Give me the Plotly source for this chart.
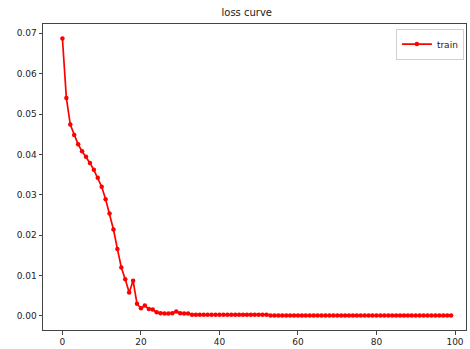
import plotly.graph_objects as go

epochs = list(range(100))
train_loss = [
    0.0687, 0.0540, 0.0474, 0.0448, 0.0425, 0.0408, 0.0394, 0.0379, 0.0362, 0.0342,
    0.0320, 0.0289, 0.0254, 0.0214, 0.0166, 0.0120, 0.0091, 0.0058, 0.0087, 0.0030,
    0.0019, 0.0026, 0.0017, 0.0016, 0.0009, 0.0007, 0.0006, 0.0006, 0.0007, 0.0011,
    0.0007, 0.0006, 0.0006, 0.0003, 0.0003, 0.0003, 0.0003, 0.0003, 0.0003, 0.0003,
    0.0003, 0.0003, 0.0003, 0.0003, 0.0003, 0.0003, 0.0003, 0.0003, 0.0003, 0.0003,
    0.0003, 0.0003, 0.0003, 0.0001, 0.0001, 0.0001, 0.0001, 0.0001, 0.0001, 0.0001,
    0.0001, 0.0001, 0.0001, 0.0001, 0.0001, 0.0001, 0.0001, 0.0001, 0.0001, 0.0001,
    0.0001, 0.0001, 0.0001, 0.0001, 0.0001, 0.0001, 0.0001, 0.0001, 0.0001, 0.0001,
    0.0001, 0.0001, 0.0001, 0.0001, 0.0001, 0.0001, 0.0001, 0.0001, 0.0001, 0.0001,
    0.0001, 0.0001, 0.0001, 0.0001, 0.0001, 0.0001, 0.0001, 0.0001, 0.0001, 0.0001,
]
x_ticks = [0, 20, 40, 60, 80, 100]
y_ticks = [0.00, 0.01, 0.02, 0.03, 0.04, 0.05, 0.06, 0.07]

fig = go.Figure()
fig.add_trace(go.Scatter(
    x=epochs, y=train_loss, name="train", mode="lines+markers",
    line=dict(color="red", width=1.7),
    marker=dict(color="red", size=4.5, symbol="circle"),
))

font = dict(family="DejaVu Sans", size=9, color="#222222")
fig.update_layout(
    width=470, height=349,
    margin=dict(l=43, r=4, t=24, b=19, autoexpand=False),
    paper_bgcolor="white", plot_bgcolor="white",
    title=dict(text="loss curve", x=0.525, xanchor="center", y=0.965, yanchor="middle",
               font=dict(family="DejaVu Sans", size=10, color="#222222")),
    font=font,
    showlegend=True,
    legend=dict(x=0.995, y=0.985, xanchor="right", yanchor="top",
                bgcolor="white", bordercolor="#d0d0d0", borderwidth=1,
                font=dict(family="DejaVu Sans", size=9, color="#222222"),
                itemwidth=30),
)
fig.update_xaxes(
    range=[-4.95, 102.8], tickvals=x_ticks, ticktext=[str(v) for v in x_ticks],
    showgrid=False, zeroline=False, showline=True, linecolor="#444444", linewidth=1,
    mirror=True, ticks="outside", ticklen=3.5, tickcolor="#444444", automargin=False,
)
fig.update_yaxes(
    range=[-0.00347, 0.0723], tickvals=y_ticks, ticktext=[f"{v:.2f}" for v in y_ticks],
    showgrid=False, zeroline=False, showline=True, linecolor="#444444", linewidth=1,
    mirror=True, ticks="outside", ticklen=3.5, tickcolor="#444444", automargin=False,
)

fig.write_html(
    "out.html",
    config={"displayModeBar": False},
    post_script="document.body.style.margin='0';document.body.style.padding='0';document.body.style.overflow='hidden';",
)
